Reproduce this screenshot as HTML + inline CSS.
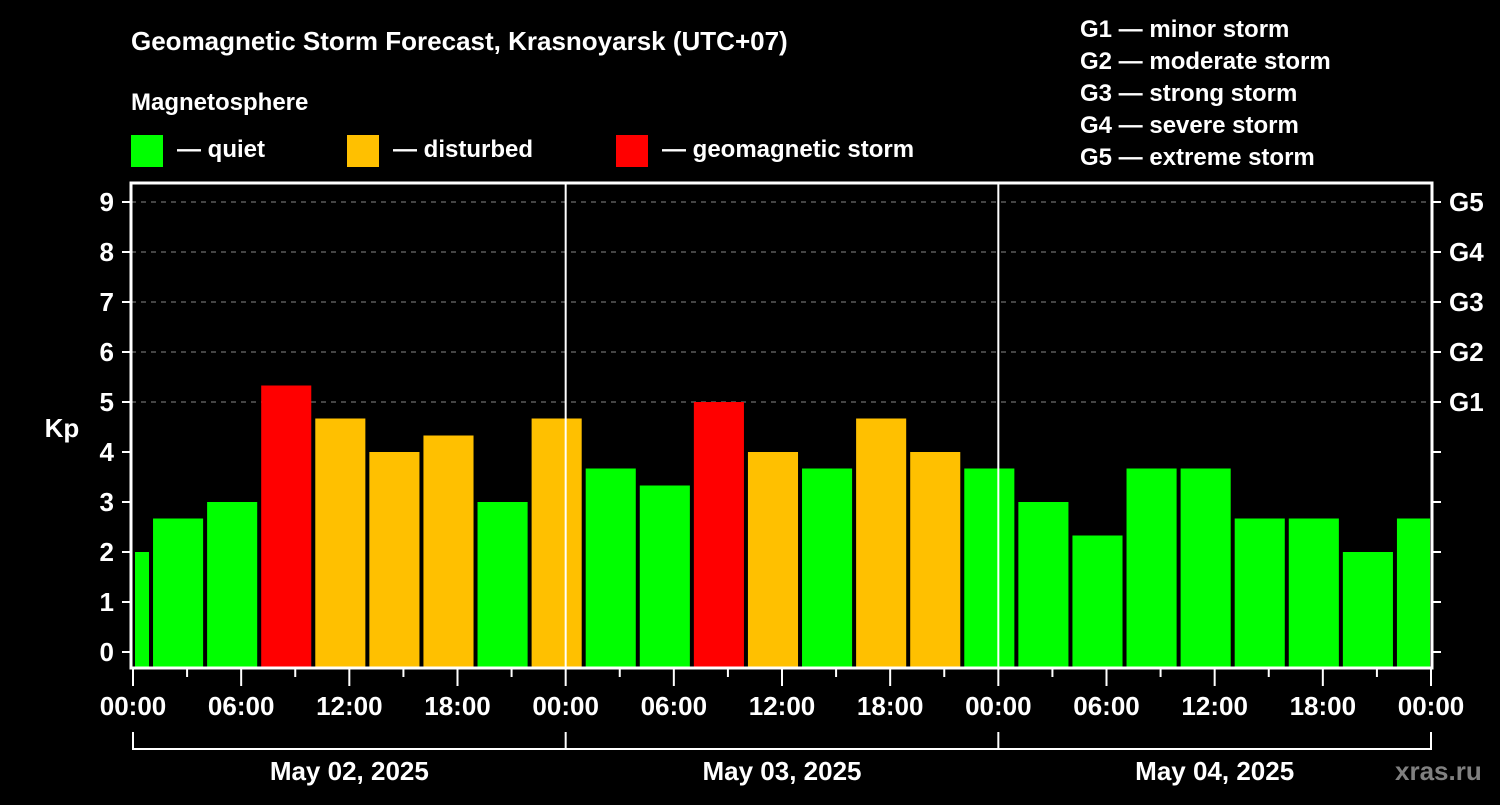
<!DOCTYPE html>
<html><head><meta charset="utf-8"><style>
body{margin:0;background:#000;width:1500px;height:800px;overflow:hidden}
svg text{font-family:"Liberation Sans",sans-serif;font-weight:bold;fill:#fff}
</style></head><body>
<svg id="c" width="1500" height="800">
<text x="131" y="50" font-size="26">Geomagnetic Storm Forecast, Krasnoyarsk (UTC+07)</text>
<text x="131" y="110" font-size="24">Magnetosphere</text>
<rect x="131" y="135" width="32" height="32" fill="#00ff00"/>
<text x="177" y="157" font-size="24">— quiet</text>
<rect x="347" y="135" width="32" height="32" fill="#ffc000"/>
<text x="393" y="157" font-size="24">— disturbed</text>
<rect x="616" y="135" width="32" height="32" fill="#ff0000"/>
<text x="662" y="157" font-size="24">— geomagnetic storm</text>
<g font-size="24">
<text x="1080" y="37">G1 — minor storm</text>
<text x="1080" y="69">G2 — moderate storm</text>
<text x="1080" y="101">G3 — strong storm</text>
<text x="1080" y="133">G4 — severe storm</text>
<text x="1080" y="165">G5 — extreme storm</text>
</g>
<g id="plot"></g>
<text x="62" y="437" font-size="26" text-anchor="middle">Kp</text>
<text x="1395" y="780" font-size="26" fill="#808080" style="fill:#808080">xras.ru</text>
</svg>
<script>
const kpValues=[2,2.67,3,5.33,4.67,4,4.33,3,4.67,3.67,3.33,5,4,3.67,4.67,4,3.67,3,2.33,3.67,3.67,2.67,2.67,2,2.67];
const barStartHours=[-2,1,4,7,10,13,16,19,22,25,28,31,34,37,40,43,46,49,52,55,58,61,64,67,70];
const yTicks=[0,1,2,3,4,5,6,7,8,9];
const gLabels=["G1","G2","G3","G4","G5"];
const gLevels=[5,6,7,8,9];
const dayLabels=["May 02, 2025","May 03, 2025","May 04, 2025"];
const hourLabels=["00:00","06:00","12:00","18:00"];
const L=131,R=1432,T=183,B=668;
const x=h=>133+h*(1431-133)/72;
const y=v=>652-50*v;
const ns="http://www.w3.org/2000/svg";
const g=document.getElementById('plot');
function mk(t,a,txt){const e=document.createElementNS(ns,t);for(const k in a)e.setAttribute(k,a[k]);if(txt!==undefined)e.textContent=txt;g.appendChild(e);return e;}
gLevels.forEach(v=>{const e=mk('line',{x1:L,x2:R,y1:y(v),y2:y(v),stroke:'#888','stroke-dasharray':'5,5','stroke-width':1});

});
kpValues.forEach((v,i)=>{const h=barStartHours[i];let x1=Math.max(x(h)+2,x(0)+2),x2=Math.min(x(h+3)-2,x(72)-1);
const c=v>=5?'#ff0000':(v>=4?'#ffc000':'#00ff00');
const e=mk('rect',{x:x1,y:y(v),width:x2-x1,height:B-y(v),fill:c});

});
[24,48].forEach(h=>{const e=mk('line',{x1:x(h),x2:x(h),y1:T,y2:B,stroke:'#fff','stroke-width':2});

});
const fr=mk('rect',{x:L,y:T,width:R-L,height:B-T,fill:'none',stroke:'#fff','stroke-width':3});


yTicks.forEach(v=>{mk('line',{x1:122,x2:L,y1:y(v),y2:y(v),stroke:'#fff','stroke-width':2});mk('line',{x1:R,x2:1441,y1:y(v),y2:y(v),stroke:'#fff','stroke-width':2});
const t=mk('text',{x:114,y:y(v)+9,'font-size':26,'text-anchor':'end'},String(v));

});
gLabels.forEach((s,i)=>{const t=mk('text',{x:1449,y:y(gLevels[i])+9,'font-size':26},s);

});
for(let h=0;h<=72;h+=3){const maj=h%6===0;mk('line',{x1:x(h),x2:x(h),y1:B,y2:maj?686:677,stroke:'#fff','stroke-width':2});
if(maj&&h%6===0&&(h%6===0)){}}
for(let h=0;h<=72;h+=6){const t=mk('text',{x:x(h),y:715,'font-size':26,'text-anchor':'middle'},hourLabels[(h/6)%4]);

}
mk('line',{x1:x(0),x2:x(72),y1:749,y2:749,stroke:'#fff','stroke-width':2});
[0,24,48,72].forEach(h=>mk('line',{x1:x(h),x2:x(h),y1:732,y2:750,stroke:'#fff','stroke-width':2}));
dayLabels.forEach((s,i)=>{const t=mk('text',{x:x(i*24+12),y:780,'font-size':26,'text-anchor':'middle'},s);

});
</script>
</body></html>
